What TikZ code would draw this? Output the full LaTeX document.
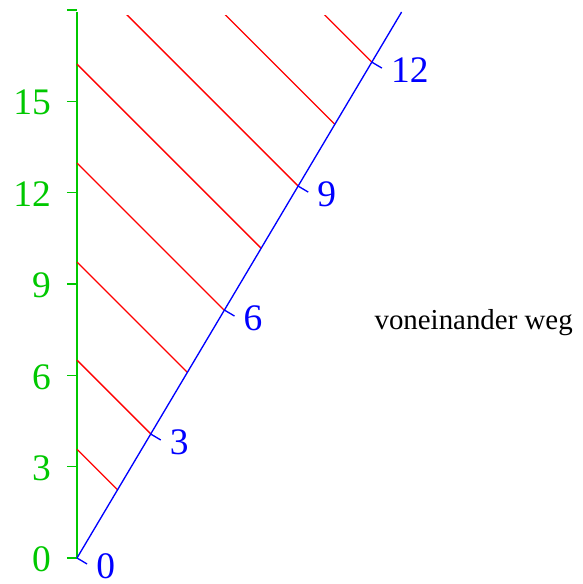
\documentclass[tikz,border=0pt]{standalone}
\usepackage{fontspec}
\setmainfont{Liberation Serif}
\usetikzlibrary{positioning}
\definecolor{restgreen}{RGB}{0,200,0}

\begin{document}
\begin{tikzpicture}[x=1cm, y=1cm, line width=1.25pt,
  numlbl/.style={font=\fontsize{35}{40}\selectfont, inner sep=0pt}]

\useasboundingbox (-2.529,-0.854) rectangle (16.585,18.325);

% ── GREEN AXIS: observer at rest ────────────────────────────

\draw[restgreen] (0,0) -- (0,17.93);

% ticks and labels, every 3 units
\foreach \tpos/\lbl in {0/0, 3/3, 6/6, 9/9, 12/12, 15/15} {
    \draw[restgreen] (-0.33,\tpos) -- (0,\tpos);
    \node[numlbl, text=restgreen, anchor=east] (g\lbl) at (-0.84,\tpos-0.05) {\lbl};
}
\draw[restgreen] (-0.33,18) -- (0,18);

% ── RED LINES: light signals (clipped at the top) ───────────

\begin{scope}
\clip (-0.1,-0.5) rectangle (12,17.83);
% arrival on green axis at t = \r, start on blue line at t = \r/(1+v), v = 0.5947
\foreach \r in {3.57, 6.50, 9.72, 12.97, 16.22, 19.48, 22.71, 25.97} {
    \draw[red] (0,\r) -- ({0.5947*\r/1.5947},{\r/1.5947});
}
\end{scope}

% ── BLUE LINE: moving observer ──────────────────────────────

\draw[blue] (0,0) -- (10.66,17.93);

% proper time ticks and labels
\foreach \n in {0, 3, 6, 9, 12} {
    \draw[blue] ({0.807*\n},{1.357*\n}) -- ++(0.33,-0.196)
        node[numlbl, text=blue, anchor=west, xshift=0.28cm, yshift=-0.08cm] (b\n) {\n};
}

% Caption
\node[font=\fontsize{27}{32}\selectfont, anchor=base west, inner sep=0pt] (weg) at (9.75,7.51) {voneinander weg};

\end{tikzpicture}
\end{document}
